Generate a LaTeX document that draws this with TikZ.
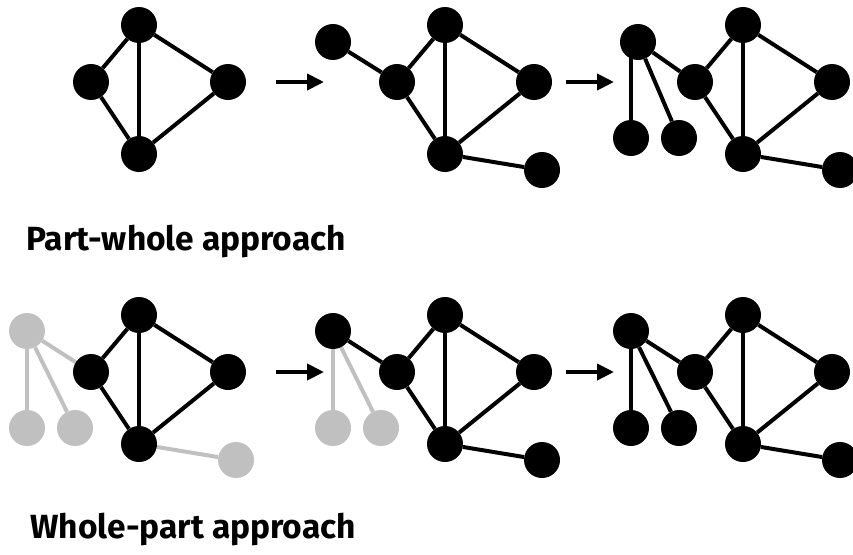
\documentclass[tikz,border=0pt]{standalone}
\usepackage{fontspec}
\setmainfont{Fira Sans}
\usetikzlibrary{arrows.meta, backgrounds, positioning}
\definecolor{partgrey}{RGB}{192,192,192}
\tikzset{
  dot/.style={circle, fill=black, minimum size=36pt, inner sep=0pt},
  greydot/.style={dot, fill=partgrey},
  edge/.style={line width=4pt},
  greyedge/.style={edge, draw=partgrey},
  steparrow/.style={line width=4pt, -{Triangle[length=17pt, width=16pt]}},
  rowlabel/.style={anchor=base west, font=\bfseries\fontsize{33.5}{40}\selectfont}
}

\begin{document}
\begin{tikzpicture}[x=1pt, y=-1pt]
    \useasboundingbox (0,0) rectangle (853,554);
    % the four-node core, six times
    \foreach \g/\gx/\gy in {a/139/0, b/445/0, c/743/0, d/139/290, e/445/290, f/743/290} {
        \node[dot] (top\g) at (\gx, 25+\gy) {};
        \node[dot] (left\g) at (\gx-48, 82+\gy) {};
        \node[dot] (right\g) at (\gx+89, 82+\gy) {};
        \node[dot] (bot\g) at (\gx, 154+\gy) {};
        \begin{scope}[on background layer]
            \draw[edge] (top\g) -- (left\g);
            \draw[edge] (left\g) -- (bot\g);
            \draw[edge] (bot\g) -- (right\g);
            \draw[edge] (right\g) -- (top\g);
            \draw[edge] (top\g) -- (bot\g);
        \end{scope}
    }

    % Part-whole: grow piece by piece
    \node[dot] (extb) at (333,42) {};
    \node[dot] (tailb) at (542,170) {};
    \node[dot] (extc) at (638,42) {};
    \node[dot] (legc) at (631,138) {};
    \node[dot] (armc) at (679,138) {};
    \node[dot] (tailc) at (840,170) {};
    \begin{scope}[on background layer]
        \draw[edge] (extb) -- (leftb);
        \draw[edge] (botb) -- (tailb);
        \draw[edge] (extc) -- (leftc);
        \draw[edge] (legc) -- (legc |- extc);
        \draw[edge] (extc) -- (armc);
        \draw[edge] (botc) -- (tailc);
    \end{scope}

    % Whole-part: grey parts get filled in
    \node[greydot] (extd) at (27,331) {};
    \node[greydot] (legd) at (27,428) {};
    \node[greydot] (armd) at (75,428) {};
    \node[greydot] (taild) at (236,460) {};
    \node[dot] (exte) at (333,331) {};
    \node[greydot] (lege) at (333,428) {};
    \node[greydot] (arme) at (381,428) {};
    \node[dot] (taile) at (542,460) {};
    \node[dot] (extf) at (631,331) {};
    \node[dot] (legf) at (631,428) {};
    \node[dot] (armf) at (679,428) {};
    \node[dot] (tailf) at (840,460) {};
    \begin{scope}[on background layer]
        \draw[greyedge] (extd) -- (leftd);
        \draw[greyedge] (extd) -- (legd);
        \draw[greyedge] (extd) -- (armd);
        \draw[greyedge] (botd) -- (taild);
        \draw[edge] (exte) -- (lefte);
        \draw[greyedge] (exte) -- (lege);
        \draw[greyedge] (exte) -- (arme);
        \draw[edge] (bote) -- (taile);
        \draw[edge] (extf) -- (leftf);
        \draw[edge] (extf) -- (legf);
        \draw[edge] (extf) -- (armf);
        \draw[edge] (botf) -- (tailf);
    \end{scope}

    % arrows
    \coordinate (arrAs) at (276,82);
    \coordinate (arrAe) at (324,82);
    \coordinate (arrBs) at (566,82);
    \coordinate (arrBe) at (614,82);
    \coordinate (arrCs) at (276,372);
    \coordinate (arrCe) at (324,372);
    \coordinate (arrDs) at (566,372);
    \coordinate (arrDe) at (614,372);
    \draw[steparrow] (arrAs) -- (arrAe);
    \draw[steparrow] (arrBs) -- (arrBe);
    \draw[steparrow] (arrCs) -- (arrCe);
    \draw[steparrow] (arrDs) -- (arrDe);

    \node[rowlabel] (partwhole) at (23,250) {Part-whole approach};
    \node[rowlabel] (wholepart) at (27,538) {Whole-part approach};
\end{tikzpicture}
\end{document}
